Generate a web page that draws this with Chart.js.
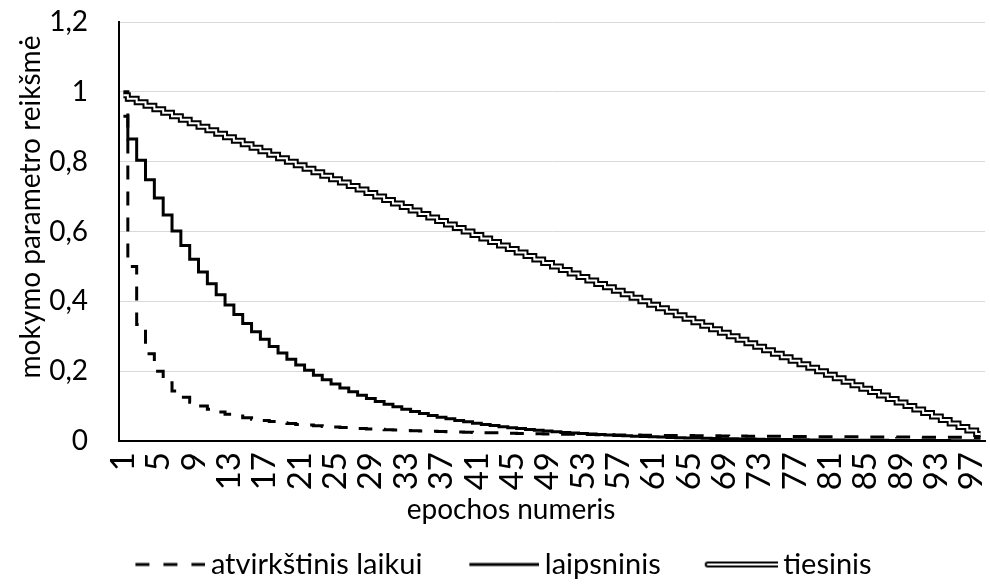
<!DOCTYPE html>
<html>
<head>
<meta charset="utf-8">
<script src="https://cdn.jsdelivr.net/npm/chart.js@4"></script>
<style>
  html, body { margin: 0; padding: 0; background: #fff; }
</style>
</head>
<body>
<canvas id="chart" width="990" height="586"></canvas>
<script>
// epochos numeris
const epochs = [
    1, 2, 3, 4, 5, 6, 7, 8, 9, 10, 11, 12, 13, 14, 15, 16, 17, 18, 19, 20,
    21, 22, 23, 24, 25, 26, 27, 28, 29, 30, 31, 32, 33, 34, 35, 36, 37, 38, 39, 40,
    41, 42, 43, 44, 45, 46, 47, 48, 49, 50, 51, 52, 53, 54, 55, 56, 57, 58, 59, 60,
    61, 62, 63, 64, 65, 66, 67, 68, 69, 70, 71, 72, 73, 74, 75, 76, 77, 78, 79, 80,
    81, 82, 83, 84, 85, 86, 87, 88, 89, 90, 91, 92, 93, 94, 95, 96, 97, 98
];

// atvirkštinis laikui
const inverseTime = [
    1, 0.5, 0.3333, 0.25, 0.2, 0.1667, 0.1429, 0.125, 0.1111, 0.1,
    0.0909, 0.0833, 0.0769, 0.0714, 0.0667, 0.0625, 0.0588, 0.0556, 0.0526, 0.05,
    0.0476, 0.0455, 0.0435, 0.0417, 0.04, 0.0385, 0.037, 0.0357, 0.0345, 0.0333,
    0.0323, 0.0313, 0.0303, 0.0294, 0.0286, 0.0278, 0.027, 0.0263, 0.0256, 0.025,
    0.0244, 0.0238, 0.0233, 0.0227, 0.0222, 0.0217, 0.0213, 0.0208, 0.0204, 0.02,
    0.0196, 0.0192, 0.0189, 0.0185, 0.0182, 0.0179, 0.0175, 0.0172, 0.0169, 0.0167,
    0.0164, 0.0161, 0.0159, 0.0156, 0.0154, 0.0152, 0.0149, 0.0147, 0.0145, 0.0143,
    0.0141, 0.0139, 0.0137, 0.0135, 0.0133, 0.0132, 0.013, 0.0128, 0.0127, 0.0125,
    0.0123, 0.0122, 0.012, 0.0119, 0.0118, 0.0116, 0.0115, 0.0114, 0.0112, 0.0111,
    0.011, 0.0109, 0.0108, 0.0106, 0.0105, 0.0104, 0.0103, 0.0102
];

// laipsninis
const exponential = [
    0.93, 0.8649, 0.8044, 0.7481, 0.6957, 0.647, 0.6017, 0.5596, 0.5204, 0.484,
    0.4501, 0.4186, 0.3893, 0.362, 0.3367, 0.3131, 0.2912, 0.2708, 0.2519, 0.2342,
    0.2178, 0.2026, 0.1884, 0.1752, 0.163, 0.1516, 0.1409, 0.1311, 0.1219, 0.1134,
    0.1054, 0.0981, 0.0912, 0.0848, 0.0789, 0.0733, 0.0682, 0.0634, 0.059, 0.0549,
    0.051, 0.0475, 0.0441, 0.041, 0.0382, 0.0355, 0.033, 0.0307, 0.0285, 0.0266,
    0.0247, 0.023, 0.0214, 0.0199, 0.0185, 0.0172, 0.016, 0.0148, 0.0138, 0.0128,
    0.0119, 0.0111, 0.0103, 0.0096, 0.0089, 0.0083, 0.0077, 0.0072, 0.0067, 0.0062,
    0.0058, 0.0054, 0.005, 0.0046, 0.0043, 0.004, 0.0037, 0.0035, 0.0032, 0.003,
    0.0028, 0.0026, 0.0024, 0.0022, 0.0021, 0.0019, 0.0018, 0.0017, 0.0016, 0.0015,
    0.0014, 0.0013, 0.0012, 0.0011, 0.001, 0.001, 0.0009, 0.0008
];

// tiesinis
const linear = [
    0.99, 0.98, 0.97, 0.96, 0.95, 0.94, 0.93, 0.92, 0.91, 0.9,
    0.89, 0.88, 0.87, 0.86, 0.85, 0.84, 0.83, 0.82, 0.81, 0.8,
    0.79, 0.78, 0.77, 0.76, 0.75, 0.74, 0.73, 0.72, 0.71, 0.7,
    0.69, 0.68, 0.67, 0.66, 0.65, 0.64, 0.63, 0.62, 0.61, 0.6,
    0.59, 0.58, 0.57, 0.56, 0.55, 0.54, 0.53, 0.52, 0.51, 0.5,
    0.49, 0.48, 0.47, 0.46, 0.45, 0.44, 0.43, 0.42, 0.41, 0.4,
    0.39, 0.38, 0.37, 0.36, 0.35, 0.34, 0.33, 0.32, 0.31, 0.3,
    0.29, 0.28, 0.27, 0.26, 0.25, 0.24, 0.23, 0.22, 0.21, 0.2,
    0.19, 0.18, 0.17, 0.16, 0.15, 0.14, 0.13, 0.12, 0.11, 0.1,
    0.09, 0.08, 0.07, 0.06, 0.05, 0.04, 0.03, 0.02
];

const seriesNames = ["atvirkštinis laikui", "laipsninis", "tiesinis"];
const xTitle = "epochos numeris";
const yTitle = "mokymo parametro reikšmė";

const FONT = "Lato";
const FONT_SIZE = 28;
const LEGEND_DROP = 3;

// legend keys are drawn into small canvases, the line sits in the right part
const makeKey = (draw) => {
    const c = document.createElement("canvas");
    c.width = 101;
    c.height = 12;
    const ctx = c.getContext("2d");
    ctx.strokeStyle = "#000";
    ctx.beginPath();
    ctx.moveTo(31, 6);
    ctx.lineTo(101, 6);
    draw(ctx);
    return c;
};

const dashedKey = makeKey(ctx => {
    ctx.lineWidth = 3;
    ctx.setLineDash([14, 14]);
    ctx.stroke();
});
const solidKey = makeKey(ctx => {
    ctx.lineWidth = 3;
    ctx.stroke();
});
const doubleKey = makeKey(ctx => {
    ctx.lineCap = "round";
    ctx.lineWidth = 6;
    ctx.stroke();
    ctx.strokeStyle = "#fff";
    ctx.lineWidth = 2;
    ctx.stroke();
});

const axisTitles = {
    id: "axisTitles",
    afterDraw(chart) {
        const ctx = chart.ctx;
        ctx.save();
        ctx.fillStyle = "#000";
        ctx.font = FONT_SIZE + "px " + FONT;
        ctx.textAlign = "center";
        ctx.textBaseline = "middle";
        ctx.fillText(xTitle, 511, 510);
        ctx.translate(31, 207);
        ctx.rotate(-Math.PI / 2);
        ctx.fillText(yTitle, 0, 0);
        ctx.restore();
    }
};

const getData = () => {
    return {
        labels: epochs,
        datasets: [
            {
                label: seriesNames[0],
                data: inverseTime,
                borderColor: "#000",
                borderWidth: 3,
                borderDash: [14, 12],
                stepped: "middle",
                pointRadius: 0,
                pointStyle: dashedKey,
                order: 2,
            },
            {
                label: seriesNames[1],
                data: exponential,
                borderColor: "#000",
                borderWidth: 3,
                stepped: "middle",
                pointRadius: 0,
                pointStyle: solidKey,
                order: 3,
            },
            {
                label: seriesNames[2],
                data: linear,
                borderColor: "#000",
                borderWidth: 6,
                stepped: "middle",
                pointRadius: 0,
                pointStyle: doubleKey,
                order: 1,
            },
            {
                label: seriesNames[2] + " (vidus)",
                data: linear,
                borderColor: "#fff",
                borderWidth: 2,
                stepped: "middle",
                pointRadius: 0,
                order: 0,
            },
        ],
    };
};

const getConfig = (data) => {
    return {
        type: "line",
        data: data,
        plugins: [axisTitles],
        options: {
            responsive: false,
            animation: false,
            layout: {
                padding: { left: 0, right: 5, top: 22, bottom: -LEGEND_DROP },
            },
            scales: {
                x: {
                    type: "category",
                    offset: true,
                    grid: { display: false, drawTicks: false },
                    border: { display: true, color: "#000", width: 2 },
                    ticks: {
                        autoSkip: false,
                        minRotation: 90,
                        maxRotation: 90,
                        padding: 11,
                        color: "#000",
                        font: { family: FONT, size: 33 },
                        callback: function (value, index) {
                            return index % 4 === 0 ? this.getLabelForValue(value) : "";
                        },
                    },
                    afterFit: (scale) => {
                        scale.height = scale.chart.height + LEGEND_DROP - scale.chart.legend.height - 441;
                        scale.paddingLeft = 0;
                        scale.paddingRight = 0;
                    },
                },
                y: {
                    min: 0,
                    max: 1.2,
                    grid: { color: "#d9d9d9", lineWidth: 1, drawTicks: false },
                    border: { display: true, color: "#000", width: 2 },
                    ticks: {
                        stepSize: 0.2,
                        padding: 31,
                        color: "#000",
                        font: { family: FONT, size: FONT_SIZE },
                        callback: (value) => String(Math.round(value * 10) / 10).replace(".", ","),
                    },
                    afterFit: (scale) => {
                        scale.width = 119;
                        scale.paddingTop = 0;
                        scale.paddingBottom = 0;
                    },
                },
            },
            plugins: {
                tooltip: { enabled: false },
                legend: {
                    position: "bottom",
                    labels: {
                        usePointStyle: true,
                        pointStyleWidth: 83,
                        padding: 25,
                        color: "#000",
                        font: { family: FONT, size: 29 },
                        filter: (item) => item.datasetIndex !== 3,
                        sort: (a, b) => a.datasetIndex - b.datasetIndex,
                    },
                },
            },
        },
    };
};

const createChart = () => {
    const ctx = document.getElementById("chart").getContext("2d");
    new Chart(ctx, getConfig(getData()));
};

createChart();
</script>
</body>
</html>
